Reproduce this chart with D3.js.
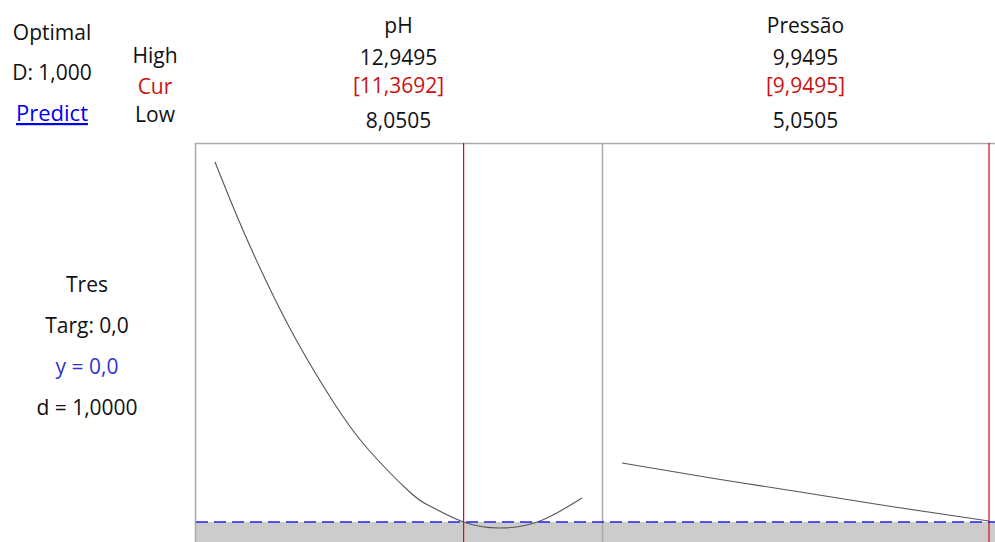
<!DOCTYPE html>
<html>
<head>
<meta charset="utf-8">
<script src="https://cdn.jsdelivr.net/npm/d3@7"></script>
<style>
  body { margin: 0; background: #fff; }
  svg { display: block; font-family: "Open Sans", sans-serif; }
</style>
</head>
<body>
<div id="chart"></div>
<script>
// factor settings
var factors = ['pH', 'Pressão'];
var highVals = [12.9495, 9.9495];
var lowVals = [8.0505, 5.0505];
var curVals = [11.3692, 9.9495];

// response trace (Tres vs factor)
var phX = [8.0505, 8.36, 8.72, 9.15, 9.63, 10.08, 10.65, 10.92, 11.3692, 11.86, 12.39, 12.9495];
var phY = [3.60, 3.03, 2.43, 1.80, 1.20, 0.74, 0.30, 0.16, 0.0, -0.06, 0.01, 0.24];
var prX = [5.0505, 6.24, 7.43, 8.69, 9.9495];
var prY = [0.59, 0.44, 0.30, 0.15, 0.01];

var target = 0.0;

var fmt = v => v.toFixed(4).replace('.', ',');

var width = 995, height = 542;
var topY = 143, bottomY = 560;
var panelW = 407, pad = 20;
var panelX = [195, 602];

var svg = d3.select('#chart').append('svg')
  .attr('width', width).attr('height', height);

var y = d3.scaleLinear().domain([0, 3.6]).range([522, 162]);

var series = [
  {x: phX, y: phY},
  {x: prX, y: prY}
];

var fs = 21;
var txt = function(x, yy, s, color){
  return svg.append('text')
    .attr('x', x).attr('y', yy)
    .attr('text-anchor', 'middle')
    .attr('font-size', fs)
    .attr('fill', color || '#111')
    .text(s);
};

// left header
txt(52, 40, 'Optimal');
txt(52, 80, 'D: 1,000');
txt(52, 121, 'Predict', '#0000ee').attr('text-decoration', 'underline').attr('font-size', 22);
txt(155, 63, 'High');
txt(155, 94, 'Cur', '#cc1111');
txt(155, 122, 'Low');

// response labels
txt(87, 292, 'Tres');
txt(87, 333, 'Targ: ' + target.toFixed(1).replace('.', ','));
txt(87, 374, 'y = 0,0', '#3333cc');
txt(87, 415, 'd = 1,0000');

// grey region below target
svg.append('rect')
  .attr('x', panelX[0]).attr('y', y(target))
  .attr('width', panelW * 2).attr('height', bottomY - y(target))
  .attr('fill', '#cccccc');

factors.forEach(function(f, i){
  var x0 = panelX[i];
  var x = d3.scaleLinear().domain([lowVals[i], highVals[i]]).range([x0 + pad, x0 + panelW - pad]);
  var cx = x0 + panelW / 2;

  txt(cx, 33, f);
  txt(cx, 65, fmt(highVals[i]));
  txt(cx, 93, '[' + fmt(curVals[i]) + ']', '#cc1111');
  txt(cx, 128, fmt(lowVals[i]));

  // panel frame
  svg.append('line')
    .attr('x1', x0 + 0.5).attr('x2', x0 + 0.5)
    .attr('y1', topY).attr('y2', bottomY)
    .attr('stroke', '#aaaaaa').attr('stroke-width', 1.5);
  svg.append('line')
    .attr('x1', x0).attr('x2', x0 + panelW)
    .attr('y1', topY + 0.5).attr('y2', topY + 0.5)
    .attr('stroke', '#aaaaaa').attr('stroke-width', 1.5);

  var s = series[i];
  var pts = s.x.map((v, j) => [v, s.y[j]]);
  var line = d3.line()
    .x(d => x(d[0])).y(d => y(d[1]))
    .curve(d3.curveNatural);
  svg.append('path')
    .datum(pts)
    .attr('d', line)
    .attr('fill', 'none')
    .attr('stroke', '#555555')
    .attr('stroke-width', 1.1);

  // current setting
  svg.append('line')
    .attr('x1', x(curVals[i])).attr('x2', x(curVals[i]))
    .attr('y1', topY).attr('y2', bottomY)
    .attr('stroke', '#cc1111').attr('stroke-width', 1.2);
});

// target line
svg.append('line')
  .attr('x1', panelX[0] + 1).attr('x2', width)
  .attr('y1', y(target)).attr('y2', y(target))
  .attr('stroke', '#2222ee').attr('stroke-width', 1.5)
  .attr('stroke-dasharray', '12,6');
</script>
</body>
</html>
